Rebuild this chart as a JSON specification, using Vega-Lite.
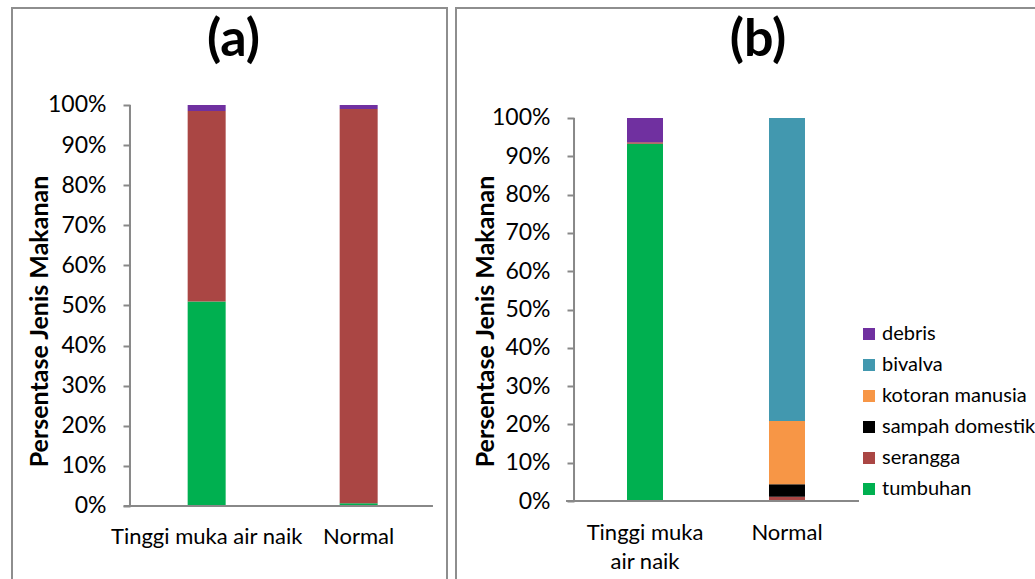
{
  "$schema": "https://vega.github.io/schema/vega-lite/v6.json",
  "padding": {"left": 11, "top": 7, "right": -10, "bottom": -15},
  "spacing": 7,
  "background": "white",
  "config": {
    "font": "Lato",
    "view": {"stroke": "#8E8E8E", "strokeWidth": 2},
    "axis": {"grid": false, "labelFont": "Lato", "titleFont": "Lato", "labelColor": "#000", "titleColor": "#000"},
    "title": {"font": "Lato", "color": "#000"}
  },
  "datasets": {
    "a": [
      {"kondisi": "Tinggi muka air naik", "jenis": "tumbuhan", "persen": 51.0, "urut": 1},
      {"kondisi": "Tinggi muka air naik", "jenis": "serangga", "persen": 47.5, "urut": 2},
      {"kondisi": "Tinggi muka air naik", "jenis": "debris", "persen": 1.5, "urut": 6},
      {"kondisi": "Normal", "jenis": "tumbuhan", "persen": 0.7, "urut": 1},
      {"kondisi": "Normal", "jenis": "serangga", "persen": 98.3, "urut": 2},
      {"kondisi": "Normal", "jenis": "debris", "persen": 1.0, "urut": 6}
    ],
    "b": [
      {"kondisi": "Tinggi muka air naik", "jenis": "tumbuhan", "persen": 93.3, "urut": 1},
      {"kondisi": "Tinggi muka air naik", "jenis": "serangga", "persen": 0.4, "urut": 2},
      {"kondisi": "Tinggi muka air naik", "jenis": "debris", "persen": 6.3, "urut": 6},
      {"kondisi": "Normal", "jenis": "serangga", "persen": 1.1, "urut": 2},
      {"kondisi": "Normal", "jenis": "sampah domestik", "persen": 3.3, "urut": 3},
      {"kondisi": "Normal", "jenis": "kotoran manusia", "persen": 16.5, "urut": 4},
      {"kondisi": "Normal", "jenis": "bivalva", "persen": 79.1, "urut": 5}
    ]
  },
  "resolve": {"scale": {"color": "independent", "x": "independent", "y": "independent"}, "legend": {"color": "independent"}},
  "hconcat": [
    {
      "width": 435,
      "height": 585,
      "title": {"text": "(a)", "fontSize": 52, "fontWeight": "bold", "offset": -59, "dx": 4, "anchor": "middle"},
      "layer": [
        {
          "data": {"name": "a"},
          "mark": {"type": "bar"},
          "encoding": {
            "x": {"field": "kondisi", "type": "nominal",
                  "scale": {"domain": ["Tinggi muka air naik", "Normal"], "paddingInner": 0.75, "paddingOuter": 0.8059, "align": 0.717},
                  "axis": {"title": null, "offset": -87, "domain": false, "ticks": false, "labelAngle": 0, "labelFontSize": 22, "labelPadding": 20, "labelLimit": 400}},
            "y": {"field": "persen", "type": "quantitative", "stack": "zero",
                  "scale": {"domain": [-21.7, 124.19], "nice": false, "zero": false},
                  "axis": {"title": "Persentase Jenis Makanan", "offset": -118, "domain": false, "values": [0, 10, 20, 30, 40, 50, 60, 70, 80, 90, 100],
                           "tickSize": 7, "tickColor": "#888888", "tickWidth": 2, "labelExpr": "datum.value + '%'", "labelFontSize": 23, "labelPadding": 17,
                           "titleFontSize": 25, "titleFontWeight": "bold", "titleX": -91, "titleY": 313, "titleBaseline": "middle", "titleAngle": -90}},
            "color": {"field": "jenis", "type": "nominal",
                      "scale": {"domain": ["debris", "serangga", "tumbuhan"], "range": ["#7030A0", "#AA4644", "#00B050"]},
                      "legend": null},
            "order": {"field": "urut", "type": "quantitative"}
          }
        },
        {
          "data": {"values": [{}]},
          "mark": {"type": "rule", "color": "#888888", "strokeWidth": 2},
          "encoding": {
            "x": {"datum": "Tinggi muka air naik", "bandPosition": -1.518},
            "y": {"datum": 0},
            "y2": {"datum": 100}
          }
        },
        {
          "data": {"values": [{}]},
          "mark": {"type": "rule", "color": "#888888", "strokeWidth": 2},
          "encoding": {
            "x": {"datum": "Tinggi muka air naik", "bandPosition": -1.684},
            "x2": {"datum": "Normal", "bandPosition": 2.455},
            "y": {"datum": 0}
          }
        }
      ]
    },
    {
      "width": 590,
      "height": 585,
      "title": {"text": "(b)", "fontSize": 52, "fontWeight": "bold", "offset": -59, "dx": 7, "anchor": "middle"},
      "layer": [
        {
          "data": {"name": "b"},
          "mark": {"type": "bar"},
          "encoding": {
            "x": {"field": "kondisi", "type": "nominal",
                  "scale": {"domain": ["Tinggi muka air naik", "Normal"], "range": [118, 402], "paddingInner": 0.7465, "paddingOuter": 0.3733},
                  "axis": {"title": null, "offset": -92, "domain": false, "ticks": false, "labelAngle": 0, "labelFontSize": 22, "labelPadding": 21, "labelLimit": 400,
                           "labelLineHeight": 29,
                           "labelExpr": "datum.value == 'Tinggi muka air naik' ? ['Tinggi muka', 'air naik'] : datum.value"}},
            "y": {"field": "persen", "type": "quantitative", "stack": "zero",
                  "scale": {"domain": [-24.02, 128.72], "nice": false, "zero": false},
                  "axis": {"title": "Persentase Jenis Makanan", "offset": -118, "domain": false, "values": [0, 10, 20, 30, 40, 50, 60, 70, 80, 90, 100],
                           "tickSize": 7, "tickColor": "#888888", "tickWidth": 2, "labelExpr": "datum.value + '%'", "labelFontSize": 23, "labelPadding": 17,
                           "titleFontSize": 25, "titleFontWeight": "bold", "titleX": -89, "titleY": 313, "titleBaseline": "middle", "titleAngle": -90}},
            "color": {"field": "jenis", "type": "nominal",
                      "scale": {"domain": ["debris", "bivalva", "kotoran manusia", "sampah domestik", "serangga", "tumbuhan"],
                                "range": ["#7030A0", "#4298AF", "#F79646", "#000000", "#AA4644", "#00B050"]},
                      "legend": {"orient": "none", "legendX": 403, "legendY": 316, "title": null, "symbolType": "square", "symbolSize": 144,
                                 "symbolStrokeWidth": 0, "labelFontSize": 20, "labelFont": "Lato", "labelColor": "#000", "rowPadding": 11,
                                 "labelOffset": 3, "padding": 0, "labelLimit": 300}},
            "order": {"field": "urut", "type": "quantitative"}
          }
        },
        {
          "data": {"values": [{}]},
          "mark": {"type": "rule", "color": "#888888", "strokeWidth": 2},
          "encoding": {
            "x": {"datum": "Tinggi muka air naik", "bandPosition": -1.472},
            "y": {"datum": 0},
            "y2": {"datum": 100}
          }
        },
        {
          "data": {"values": [{}]},
          "mark": {"type": "rule", "color": "#888888", "strokeWidth": 2},
          "encoding": {
            "x": {"datum": "Tinggi muka air naik", "bandPosition": -1.694},
            "x2": {"datum": "Normal", "bandPosition": 2.5},
            "y": {"datum": 0}
          }
        }
      ]
    }
  ]
}
